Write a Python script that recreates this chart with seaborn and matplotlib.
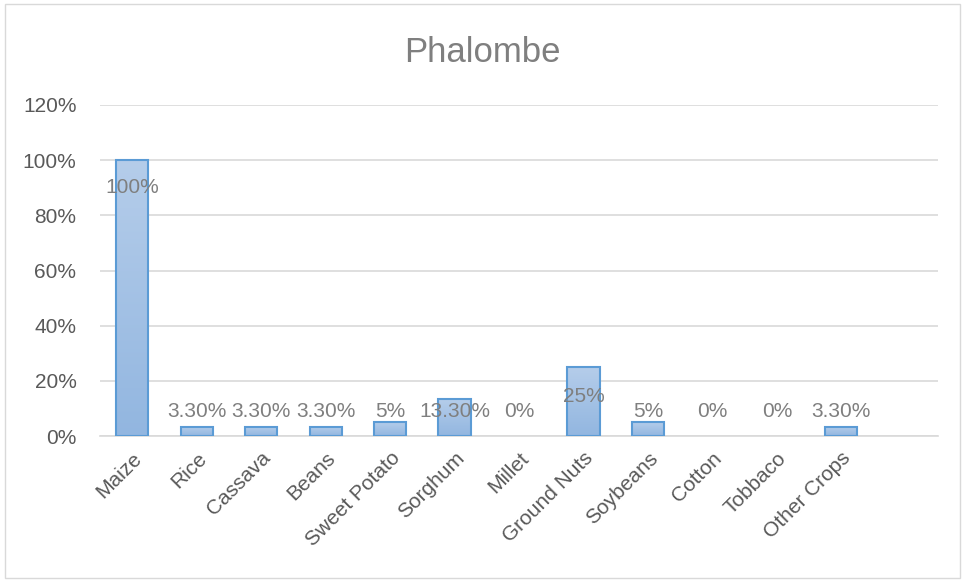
import matplotlib
matplotlib.use("Agg")
import matplotlib.pyplot as plt
import seaborn as sns
import pandas as pd
import numpy as np
from matplotlib.patches import Rectangle
from matplotlib.colors import LinearSegmentedColormap

categories = ["Maize", "Rice", "Cassava", "Beans", "Sweet Potato", "Sorghum",
              "Millet", "Ground Nuts", "Soybeans", "Cotton", "Tobbaco", "Other Crops"]
values = [1.00, 0.033, 0.033, 0.033, 0.05, 0.133, 0.0, 0.25, 0.05, 0.0, 0.0, 0.033]
labels = ["100%", "3.30%", "3.30%", "3.30%", "5%", "13.30%", "0%", "25%", "5%", "0%", "0%", "3.30%"]
label_y = [0.90, 0.09, 0.09, 0.09, 0.09, 0.09, 0.09, 0.145, 0.09, 0.09, 0.09, 0.09]
yticks = [0.0, 0.2, 0.4, 0.6, 0.8, 1.0, 1.2]
ytick_labels = ["0%", "20%", "40%", "60%", "80%", "100%", "120%"]
title = "Phalombe"

sns.set_theme(style="white")
plt.rcParams["font.family"] = ["Liberation Sans", "DejaVu Sans"]

df = pd.DataFrame({"crop": categories, "share": values})

fig = plt.figure(figsize=(9.65, 5.82), dpi=100)
ax = fig.add_axes([100/965, 1 - 436/582, 838/965, (436-105)/582])

sns.barplot(data=df, x="crop", y="share", ax=ax, color="#a9c4e6",
            edgecolor="#5b9bd5", linewidth=1.5, width=0.5, saturation=1)

# vertical gradient fill inside bars
grad = np.linspace(0, 1, 256).reshape(-1, 1)
cmap = LinearSegmentedColormap.from_list("g", ["#92b6e0", "#b5cdea"])
for p in ax.patches:
    x0, y0 = p.get_x(), p.get_y()
    w, h = p.get_width(), p.get_height()
    if h <= 0:
        p.set_visible(False)
        continue
    im = ax.imshow(grad, cmap=cmap, aspect="auto", origin="lower",
                   extent=[x0, x0 + w, y0, y0 + h], zorder=2.9)
    im.set_clip_path(p)
    p.set_facecolor("none")
    p.set_zorder(3)

ax.set_xlim(-0.5, 12.5)
ax.set_ylim(0, 1.2)
ax.set_yticks(yticks)
ax.set_yticklabels(ytick_labels)
ax.grid(axis="y", color="#d9d9d9", linewidth=1.2)
ax.set_axisbelow(True)
for s in ["top", "right", "left"]:
    ax.spines[s].set_visible(False)
ax.spines["bottom"].set_color("#d9d9d9")
ax.spines["bottom"].set_linewidth(1.2)
ax.set_xlabel("")
ax.set_ylabel("")
ax.tick_params(axis="both", length=0, colors="#595959", labelsize=15)
ax.tick_params(axis="y", pad=17)
ax.set_xticks(range(len(categories)))
ax.set_xticklabels(categories, rotation=45, ha="right", va="top",
                   rotation_mode="anchor", color="#595959", fontsize=15)
ax.tick_params(axis="x", pad=9)

for i, (lab, ly) in enumerate(zip(labels, label_y)):
    ax.text(i, ly, lab, ha="center", va="center", fontsize=15, color="#7f7f7f", zorder=5)

fig.text(0.5, 1 - 52/582, title, ha="center", va="center", fontsize=25, color="#7f7f7f")

fig.patches.append(Rectangle((5/965, 4/582), 955/965, 574/582, transform=fig.transFigure,
                             fill=False, edgecolor="#d9d9d9", linewidth=1))

fig.savefig("out.png", dpi=100)
